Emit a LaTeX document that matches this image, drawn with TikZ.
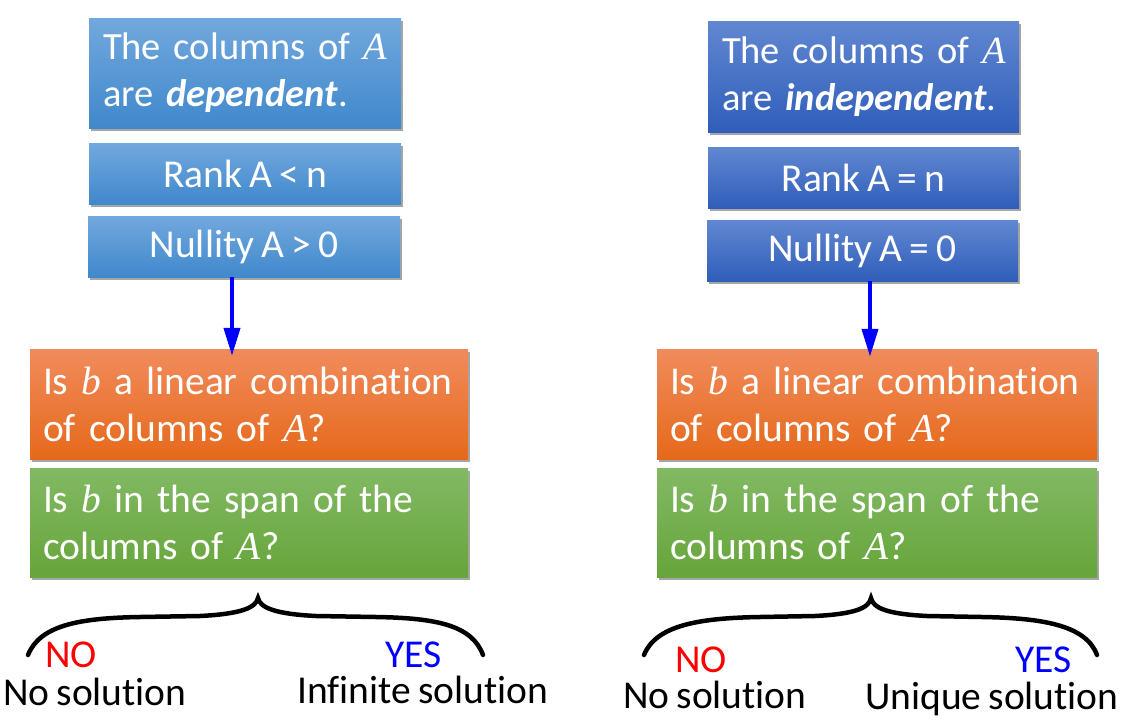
\documentclass[tikz,border=0pt]{standalone}
\usepackage{fontspec}
\setmainfont{Carlito}[Ligatures={NoCommon,NoRare,NoContextual},WordSpace=0.8]
\newfontfamily\mathserif{Liberation Serif}
\newcommand{\vA}{{\mathserif\itshape A}}
\newcommand{\vb}{{\mathserif\itshape b}}
\usetikzlibrary{arrows.meta,shadows}
\definecolor{lbTop}{HTML}{72A8DD}
\definecolor{lbBot}{HTML}{4088CC}
\definecolor{rbTop}{HTML}{6187D1}
\definecolor{rbBot}{HTML}{2F5EBA}
\definecolor{orTop}{HTML}{F18B5C}
\definecolor{orBot}{HTML}{E5691B}
\definecolor{grTop}{HTML}{82B964}
\definecolor{grBot}{HTML}{66A53A}
\definecolor{noRed}{HTML}{FF0000}
\definecolor{yesBlue}{HTML}{0000FF}
\begin{document}
\begin{tikzpicture}[x=1pt,y=-1pt,
  box/.style={rectangle, inner sep=0pt, text=white, font=\fontsize{39.5}{47}\selectfont,
     drop shadow={shadow xshift=2pt, shadow yshift=-3pt, opacity=0.35, fill=black}},
  lblue/.style={box, top color=lbTop, bottom color=lbBot},
  rblue/.style={box, top color=rbTop, bottom color=rbBot},
  topfont/.style={font=\fontsize{38.5}{47}\selectfont},
  orbox/.style={box, top color=orTop, bottom color=orBot},
  grbox/.style={box, top color=grTop, bottom color=grBot},
  arr/.style={-{Triangle[length=28pt,width=16pt]}, line width=4pt, draw=yesBlue},
  brace/.style={line width=4.5pt, draw=black, line cap=round},
  lab/.style={inner sep=0pt, anchor=base west, font=\fontsize{39.5}{44}\selectfont},
]
\useasboundingbox (0,0) rectangle (1122,723);

% left column
\node[lblue, topfont, minimum width=312pt, minimum height=110pt, text width=284pt, align=left] (topL) at (245,73)
  {\mbox{The columns of \vA}\\\mbox{are \textbf{\textit{dependent}}.}};
\node[lblue, minimum width=312pt, minimum height=61pt] (rankL) at (245,173.5) {Rank A < n};
\node[lblue, minimum width=312pt, minimum height=61pt] (nullL) at (244,246.5) {Nullity A > 0};
\node[orbox, minimum width=438pt, minimum height=110pt, text width=412pt, align=left] (orL) at (249,404)
  {\mbox{Is \vb{} a linear combination}\\\mbox{of columns of \vA?}};
\node[grbox, minimum width=438pt, minimum height=109pt, text width=412pt, align=left] (grL) at (249,522.5)
  {\mbox{Is \vb{} in the span of the}\\\mbox{columns of \vA?}};

% right column
\node[rblue, topfont, minimum width=311pt, minimum height=111pt, text width=283pt, align=left] (topR) at (863.5,76.5)
  {\mbox{The columns of \vA}\\\mbox{are \textbf{\textit{independent}}.}};
\node[rblue, minimum width=311pt, minimum height=61pt] (rankR) at (863.5,177.5) {Rank A = n};
\node[rblue, minimum width=311pt, minimum height=61pt] (nullR) at (862.5,250.5) {Nullity A = 0};
\node[orbox, minimum width=440pt, minimum height=110pt, text width=414pt, align=left] (orR) at (877,404)
  {\mbox{Is \vb{} a linear combination}\\\mbox{of columns of \vA?}};
\node[grbox, minimum width=440pt, minimum height=109pt, text width=414pt, align=left] (grR) at (877,522.5)
  {\mbox{Is \vb{} in the span of the}\\\mbox{columns of \vA?}};

% arrows
\draw[arr] ([xshift=-12pt]nullL.south) -- ([xshift=-17pt,yshift=-7pt]orL.north);
\draw[arr] ([xshift=7.5pt]nullR.south) -- ([xshift=-7pt,yshift=-8pt]orR.north);

% braces
\draw[brace] (28,655) .. controls (40,625) and (80,618) .. (140,617)
   -- (200,616) .. controls (240,614) and (256,608) .. (258,598)
   .. controls (260,608) and (276,614) .. (316,616)
   -- (376,617) .. controls (436,618) and (472,625) .. (483,655);
\draw[brace] (644,655) .. controls (656,625) and (700,618) .. (760,617)
   -- (815,616) .. controls (855,614) and (869,608) .. (871,598)
   .. controls (873,608) and (887,614) .. (927,616)
   -- (982,617) .. controls (1042,618) and (1086,625) .. (1097,655);

% labels
\node[lab, text=noRed] (noL) at (45,667) {NO};
\node[lab] (nosolL) at (3,705) {No solution};
\node[lab, text=yesBlue] (yesL) at (385,667) {YES};
\node[lab] (infL) at (297,703) {Infinite solution};
\node[lab, text=noRed] (noR) at (675,672) {NO};
\node[lab] (nosolR) at (623,708) {No solution};
\node[lab, text=yesBlue] (yesR) at (1015,672) {YES};
\node[lab] (uniR) at (865,709) {Unique solution};
\end{tikzpicture}
\end{document}
